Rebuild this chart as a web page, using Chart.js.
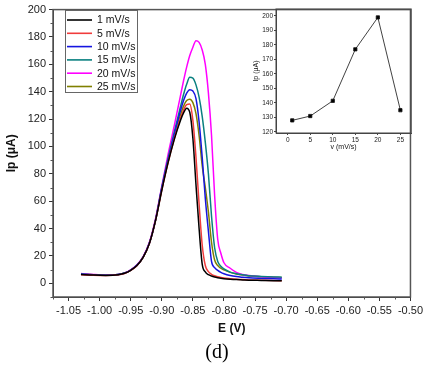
<!DOCTYPE html>
<html>
<head>
<meta charset="utf-8">
<script src="https://cdn.jsdelivr.net/npm/chart.js@4.4.0/dist/chart.umd.min.js"></script>
<style>
  body { margin: 0; background: #fff; }
  #wrap { position: relative; width: 426px; height: 367px; }
  #main { position: absolute; left: 0; top: 0; }
  #inset { position: absolute; left: 250px; top: 4px; }
</style>
</head>
<body>
<div id="wrap">
  <canvas id="main" width="426" height="367"></canvas>
  <canvas id="inset" width="166" height="152"></canvas>
</div>
<script>
/* potential grid (V), shared by all scan rates */
const potential = [-1.03, -1.01, -0.99, -0.97, -0.96, -0.95, -0.94, -0.93, -0.92, -0.91, -0.90, -0.89, -0.88, -0.87, -0.865, -0.86, -0.855, -0.85, -0.845, -0.84, -0.835, -0.83, -0.825, -0.82, -0.815, -0.81, -0.805, -0.80, -0.79, -0.78, -0.77, -0.76, -0.74, -0.72, -0.707];

/* current (uA) for each scan rate */
const ip1 = [6.5, 6.0, 5.8, 6.3, 7.3, 9.5, 13.0, 19.0, 29.0, 46.0, 68.0, 88.0, 105.0, 119.0, 124.5, 128.0, 125.0, 106.0, 72.0, 40.0, 14.0, 8.3, 6.3, 5.3, 4.6, 4.1, 3.7, 3.4, 3.0, 2.7, 2.5, 2.3, 2.1, 1.9, 1.8];
const ip5 = [6.3, 5.9, 5.7, 6.2, 7.2, 9.4, 12.9, 18.9, 29.0, 46.0, 68.0, 88.0, 105.5, 120.5, 126.5, 130.5, 131.0, 119.0, 92.0, 58.0, 28.0, 13.0, 8.5, 6.6, 5.5, 4.8, 4.3, 3.9, 3.4, 3.0, 2.7, 2.5, 2.2, 2.0, 1.9];
const ip10 = [6.6, 6.1, 5.9, 6.4, 7.4, 9.6, 13.1, 19.1, 29.2, 46.2, 69.5, 90.0, 108.5, 126.0, 133.5, 139.0, 141.5, 140.5, 135.0, 118.0, 92.0, 62.0, 38.0, 16.0, 11.5, 9.5, 8.0, 7.0, 5.7, 4.9, 4.4, 4.0, 3.6, 3.3, 3.2];
const ip15 = [6.8, 6.3, 6.0, 6.5, 7.5, 9.7, 13.2, 19.2, 29.4, 46.5, 70.0, 91.0, 110.5, 129.0, 138.0, 145.5, 150.5, 150.0, 145.0, 136.0, 122.0, 103.0, 80.0, 49.0, 26.0, 16.0, 12.5, 10.5, 8.2, 7.0, 6.2, 5.6, 5.0, 4.6, 4.5];
const ip20 = [7.2, 6.5, 6.1, 6.5, 7.6, 9.9, 13.5, 19.6, 30.0, 47.5, 71.0, 94.0, 115.0, 137.0, 148.0, 158.0, 166.5, 172.5, 177.3, 176.0, 170.5, 160.0, 139.0, 108.0, 64.0, 32.0, 22.0, 15.0, 11.0, 8.0, 6.5, 5.7, 4.8, 4.3, 4.0];
const ip25 = [6.8, 6.3, 6.0, 6.5, 7.5, 9.7, 13.2, 19.2, 29.3, 46.3, 69.0, 89.0, 107.0, 123.0, 129.5, 133.5, 134.5, 132.0, 124.0, 108.0, 86.0, 70.0, 52.0, 30.0, 17.0, 13.0, 11.0, 9.8, 8.0, 6.8, 6.0, 5.4, 4.8, 4.4, 4.3];

const seriesLabels = ['1 mV/s', '5 mV/s', '10 mV/s', '15 mV/s', '20 mV/s', '25 mV/s'];
const seriesColors = ['#000000', '#f03c3c', '#1515e0', '#0a8080', '#ff00ff', '#808000'];

const xTicks = [-1.05, -1.00, -0.95, -0.90, -0.85, -0.80, -0.75, -0.70, -0.65, -0.60, -0.55, -0.50];
const yTicks = [0, 20, 40, 60, 80, 100, 120, 140, 160, 180, 200];

/* inset: peak current vs scan rate */
const scanRate = [1, 5, 10, 15, 20, 25];
const peakCurrent = [128, 131, 141.5, 177, 199, 135];
const insetXTicks = [0, 5, 10, 15, 20, 25];
const insetYTicks = [120, 130, 140, 150, 160, 170, 180, 190, 200];

const FONT = "'Liberation Sans', Arial, sans-serif";

/* frame around the plot area plus small minor ticks, Origin style */
function framePlugin(opts) {
  return {
    id: 'frame_' + opts.name,
    afterDraw(chart) {
      const ctx = chart.ctx;
      const a = chart.chartArea;
      ctx.save();
      ctx.strokeStyle = opts.color;
      ctx.lineWidth = opts.width;
      ctx.strokeRect(a.left, a.top, a.right - a.left, a.bottom - a.top);
      if (opts.minor) {
        ctx.lineWidth = 1;
        const xs = chart.scales.x, ys = chart.scales.y;
        opts.minorX.forEach(v => {
          const px = Math.round(xs.getPixelForValue(v)) + 0.5;
          ctx.beginPath(); ctx.moveTo(px, a.bottom); ctx.lineTo(px, a.bottom + 2.5); ctx.stroke();
        });
        opts.minorY.forEach(v => {
          const py = Math.round(ys.getPixelForValue(v)) + 0.5;
          ctx.beginPath(); ctx.moveTo(a.left, py); ctx.lineTo(a.left - 2.5, py); ctx.stroke();
        });
      }
      ctx.restore();
    }
  };
}

/* boxed legend inside the plot, top-left */
const boxLegend = {
  id: 'boxLegend',
  afterDraw(chart) {
    const ctx = chart.ctx;
    ctx.save();
    ctx.strokeStyle = '#666';
    ctx.lineWidth = 1;
    ctx.strokeRect(65.5, 10.5, 72, 82);
    ctx.font = '10.5px ' + FONT;
    ctx.textBaseline = 'middle';
    chart.data.datasets.forEach((ds, i) => {
      const y = 20 + i * 13.3;
      ctx.strokeStyle = ds.borderColor;
      ctx.lineWidth = 1.6;
      ctx.beginPath(); ctx.moveTo(67, y); ctx.lineTo(92, y); ctx.stroke();
      ctx.fillStyle = '#111';
      ctx.fillText(ds.label, 97, y + 0.5);
    });
    ctx.restore();
  }
};

/* panel caption under the chart */
const caption = {
  id: 'caption',
  afterDraw(chart) {
    const ctx = chart.ctx;
    ctx.save();
    ctx.font = "20px 'Liberation Serif', 'Times New Roman', serif";
    ctx.fillStyle = '#000';
    ctx.textAlign = 'center';
    ctx.textBaseline = 'middle';
    ctx.fillText('(d)', 217, 353);
    ctx.restore();
  }
};

const minorX = [-1.075].concat(xTicks.slice(0, -1).map(v => v + 0.025));
const minorY = [-10].concat(yTicks.slice(0, -1).map(v => v + 10));

const mainChart = new Chart(document.getElementById('main'), {
  type: 'line',
  data: {
    datasets: [ip1, ip5, ip10, ip15, ip20, ip25].map((arr, i) => ({
      label: seriesLabels[i],
      data: potential.map((e, k) => ({ x: e, y: arr[k] })),
      borderColor: seriesColors[i],
      backgroundColor: seriesColors[i],
      borderWidth: 1.5,
      pointRadius: 0,
      cubicInterpolationMode: 'monotone'
    }))
  },
  options: {
    responsive: false,
    animation: false,
    layout: { padding: { left: 0, top: 5, right: 12, bottom: 27 } },
    plugins: { legend: { display: false }, tooltip: { enabled: false } },
    scales: {
      x: {
        type: 'linear',
        min: -1.075,
        max: -0.5,
        afterBuildTicks: s => { s.ticks = xTicks.map(v => ({ value: v })); },
        afterFit: s => { s.height = 43; },
        ticks: {
          color: '#222',
          font: { family: FONT, size: 11 },
          maxRotation: 0,
          autoSkip: false,
          padding: 3,
          callback: v => v.toFixed(2)
        },
        grid: { drawOnChartArea: false, tickLength: 4, tickColor: '#333' },
        border: { color: '#333', width: 1 },
        title: {
          display: true,
          text: 'E (V)',
          color: '#111',
          font: { family: FONT, size: 12, weight: 'bold' },
          padding: { top: 4, bottom: 4 }
        }
      },
      y: {
        min: -10,
        max: 200,
        afterBuildTicks: s => { s.ticks = yTicks.map(v => ({ value: v })); },
        afterFit: s => { s.width = 53; },
        ticks: {
          color: '#222',
          font: { family: FONT, size: 11 },
          padding: 3
        },
        grid: { drawOnChartArea: false, tickLength: 4, tickColor: '#333' },
        border: { color: '#333', width: 1 },
        title: {
          display: true,
          text: 'Ip (μA)',
          color: '#111',
          font: { family: FONT, size: 12, weight: 'bold' },
          padding: { top: 4, bottom: 4 }
        }
      }
    }
  },
  plugins: [framePlugin({ name: 'main', color: '#555', width: 1.5, minor: true, minorX: minorX, minorY: minorY }), boxLegend, caption]
});

const insetChart = new Chart(document.getElementById('inset'), {
  type: 'line',
  data: {
    datasets: [{
      data: scanRate.map((v, i) => ({ x: v, y: peakCurrent[i] })),
      borderColor: '#111',
      backgroundColor: '#000',
      borderWidth: 0.8,
      pointStyle: 'rect',
      pointRadius: 2.3,
      tension: 0
    }]
  },
  options: {
    responsive: false,
    animation: false,
    layout: { padding: { left: 0, top: 5, right: 4, bottom: 3 } },
    plugins: { legend: { display: false }, tooltip: { enabled: false } },
    scales: {
      x: {
        type: 'linear',
        min: -2.6,
        max: 27.4,
        afterBuildTicks: s => { s.ticks = insetXTicks.map(v => ({ value: v })); },
        afterFit: s => { s.height = 20; },
        ticks: { color: '#222', font: { family: FONT, size: 6.5 }, padding: 1, maxRotation: 0, autoSkip: false },
        grid: { drawOnChartArea: false, tickLength: 2, tickColor: '#444' },
        border: { color: '#444', width: 1 },
        title: {
          display: true,
          text: 'v (mV/s)',
          color: '#111',
          font: { family: FONT, size: 7 },
          padding: { top: 0, bottom: 2 }
        }
      },
      y: {
        min: 119.3,
        max: 204.8,
        afterBuildTicks: s => { s.ticks = insetYTicks.map(v => ({ value: v })); },
        afterFit: s => { s.width = 26; },
        ticks: { color: '#222', font: { family: FONT, size: 6.5 }, padding: 1 },
        grid: { drawOnChartArea: false, tickLength: 2, tickColor: '#444' },
        border: { color: '#444', width: 1 },
        title: {
          display: true,
          text: 'Ip (μA)',
          color: '#111',
          font: { family: FONT, size: 7 },
          padding: { top: 2, bottom: 2 }
        }
      }
    }
  },
  plugins: [framePlugin({ name: 'inset', color: '#444', width: 1, minor: false })]
});
</script>
</body>
</html>
